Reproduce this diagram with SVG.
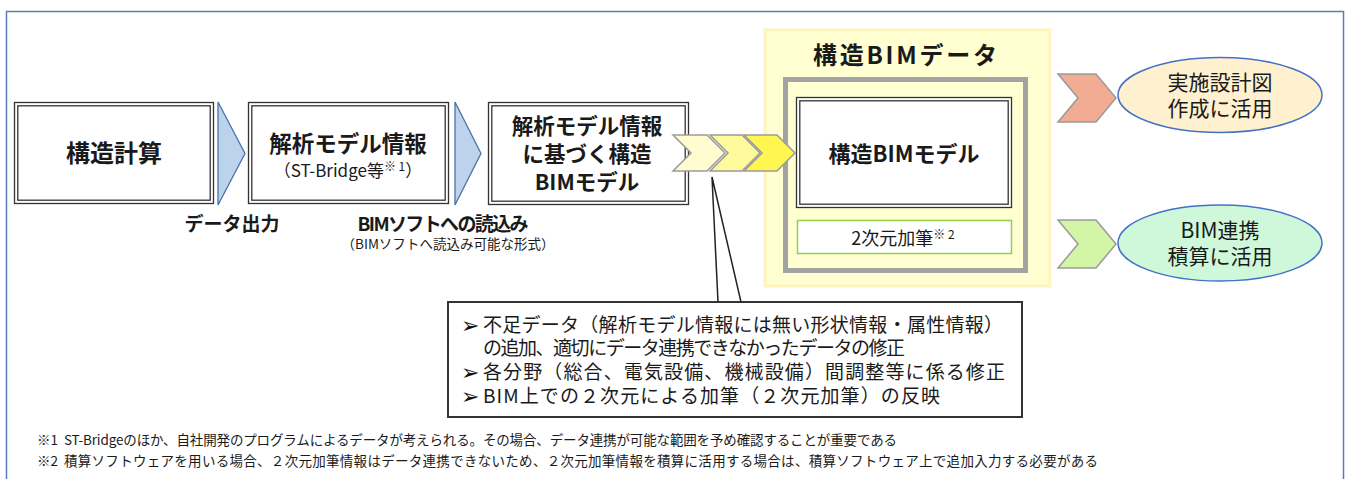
<svg xmlns="http://www.w3.org/2000/svg" width="1349" height="479" viewBox="0 0 1349 479">
<style>
text{font-family:"Noto Sans CJK JP","Noto Sans",sans-serif;fill:#1a1a1a}
.b{font-weight:bold}
.dbo{fill:#fff;stroke:#333;stroke-width:1.3}
.dbi{fill:none;stroke:#333;stroke-width:1.3}
.tri{fill:#BDD3EC;stroke:#4A72A8;stroke-width:1.3}
.chev{stroke:#9A9A9A;stroke-width:1.5;stroke-linejoin:miter}
.ell{stroke:#4472C4;stroke-width:1.5}
.c{text-anchor:middle}
.bul{font-family:"DejaVu Sans",sans-serif;font-size:22px;fill:#111}
</style>
<rect x="6.5" y="11.5" width="1337" height="490" fill="#fff" stroke="#5B7BB5" stroke-width="1.5"/>

<g id="panel-bimdata">
<rect x="765" y="30" width="285" height="256" fill="#FFFFD2" stroke="#FFF3BE" stroke-width="3"/>
<text class="b c" x="905" y="64" font-size="24" textLength="184">構造BIMデータ</text>
<rect x="785.5" y="79.5" width="240" height="191" fill="#FFFFD2" stroke="#A3A3A3" stroke-width="5"/>
</g>

<g id="node-kozokeisan">
<rect class="dbo" x="14.5" y="102.5" width="199" height="101"/>
<rect class="dbi" x="17.8" y="105.8" width="192.4" height="94.4"/>
<text class="b c" x="114" y="162" font-size="24">構造計算</text>
</g>

<g id="node-kaiseki">
<rect class="dbo" x="248.5" y="102.5" width="200" height="101"/>
<rect class="dbi" x="251.8" y="105.8" width="193.4" height="94.4"/>
<text class="b c" x="348" y="152" font-size="22.5">解析モデル情報</text>
<text class="c" x="348" y="177" font-size="17">（ST-Bridge等<tspan font-size="12" dy="-6">※ 1</tspan><tspan dy="6">）</tspan></text>
</g>

<g id="node-bimmodel-src">
<rect class="dbo" x="488.5" y="102.5" width="200" height="102"/>
<rect class="dbi" x="491.8" y="105.8" width="193.4" height="95.4"/>
<text class="b c" x="587" y="134" font-size="21.5">解析モデル情報</text>
<text class="b c" x="587" y="162" font-size="21.5">に基づく構造</text>
<text class="b c" x="587" y="190" font-size="21.5">BIMモデル</text>
</g>

<g id="node-bimmodel">
<rect class="dbo" x="796.5" y="97.5" width="215" height="110"/>
<rect class="dbi" x="799.8" y="100.8" width="208.4" height="103.4"/>
<text class="b c" x="904" y="162" font-size="22">構造BIMモデル</text>
</g>

<g id="node-2d">
<rect x="797.5" y="220.5" width="214" height="33" fill="#fff" stroke="#92D050" stroke-width="1.5"/>
<text class="c" x="903" y="245" font-size="18">2次元加筆<tspan font-size="12" dy="-6">※ 2</tspan></text>
</g>

<g id="node-jisshi">
<ellipse class="ell" cx="1220" cy="95" rx="102" ry="37.5" fill="#FFF0CF"/>
<text class="c" x="1220" y="90" font-size="21">実施設計図</text>
<text class="c" x="1220" y="116" font-size="21">作成に活用</text>
</g>

<g id="node-sekisan">
<ellipse class="ell" cx="1220" cy="243" rx="102" ry="38" fill="#CFF7DA"/>
<text class="c" x="1220" y="238" font-size="21">BIM連携</text>
<text class="c" x="1220" y="264" font-size="21">積算に活用</text>
</g>

<g id="node-callout">
<rect x="448" y="302" width="574" height="115" fill="#fff" stroke="#333" stroke-width="2"/>
<text class="bul" x="461" y="333">➢</text>
<text class="bul" x="461" y="380">➢</text>
<text class="bul" x="461" y="404">➢</text>
<text x="483" y="332" font-size="19" textLength="520">不足データ（解析モデル情報には無い形状情報・属性情報）</text>
<text x="483" y="355" font-size="19" textLength="422">の追加、適切にデータ連携できなかったデータの修正</text>
<text x="483" y="379" font-size="19" textLength="522">各分野（総合、電気設備、機械設備）間調整等に係る修正</text>
<text x="483" y="403" font-size="19" textLength="457">BIM上での２次元による加筆（２次元加筆）の反映</text>
</g>

<g id="connectors">
<polygon class="tri" points="218,102 245,153.5 218,205"/>
<polygon class="tri" points="455,102 481,153.5 455,205"/>
<polygon class="chev" fill="#FFFCCF" points="673,135 707,135 725,153 707,171 673,171 691,153"/>
<polygon class="chev" fill="#FFFA9C" points="710,135 742,135 760,153 742,171 710,171 728,153"/>
<polygon class="chev" fill="#FFF652" points="744,135 777,135 795,153 777,171 744,171 762,153"/>
<polygon class="chev" fill="#F2AC93" stroke="#C8A090" points="1058,74 1096,74 1116,98 1096,122 1058,122 1078,98"/>
<polygon class="chev" fill="#D3F5A6" points="1058,220 1096,220 1116,244 1096,268 1058,268 1078,244"/>
<polyline points="718,302 712,177 741,302" fill="none" stroke="#222" stroke-width="1.5"/>
</g>

<g id="labels">
<text class="b c" x="232" y="231" font-size="19">データ出力</text>
<text class="b c" x="443" y="231" font-size="19" textLength="171">BIMソフトへの読込み</text>
<text class="c" x="448" y="249" font-size="13.5" textLength="213">（BIMソフトへ読込み可能な形式）</text>
<text x="37" y="445" font-size="13.5">※1</text>
<text x="64" y="445" font-size="13.5" textLength="833">ST-Bridgeのほか、自社開発のプログラムによるデータが考えられる。その場合、データ連携が可能な範囲を予め確認することが重要である</text>
<text x="37" y="466" font-size="13.5">※2</text>
<text x="64" y="466" font-size="13.5" textLength="1034">積算ソフトウェアを用いる場合、２次元加筆情報はデータ連携できないため、２次元加筆情報を積算に活用する場合は、積算ソフトウェア上で追加入力する必要がある</text>
</g>
</svg>
